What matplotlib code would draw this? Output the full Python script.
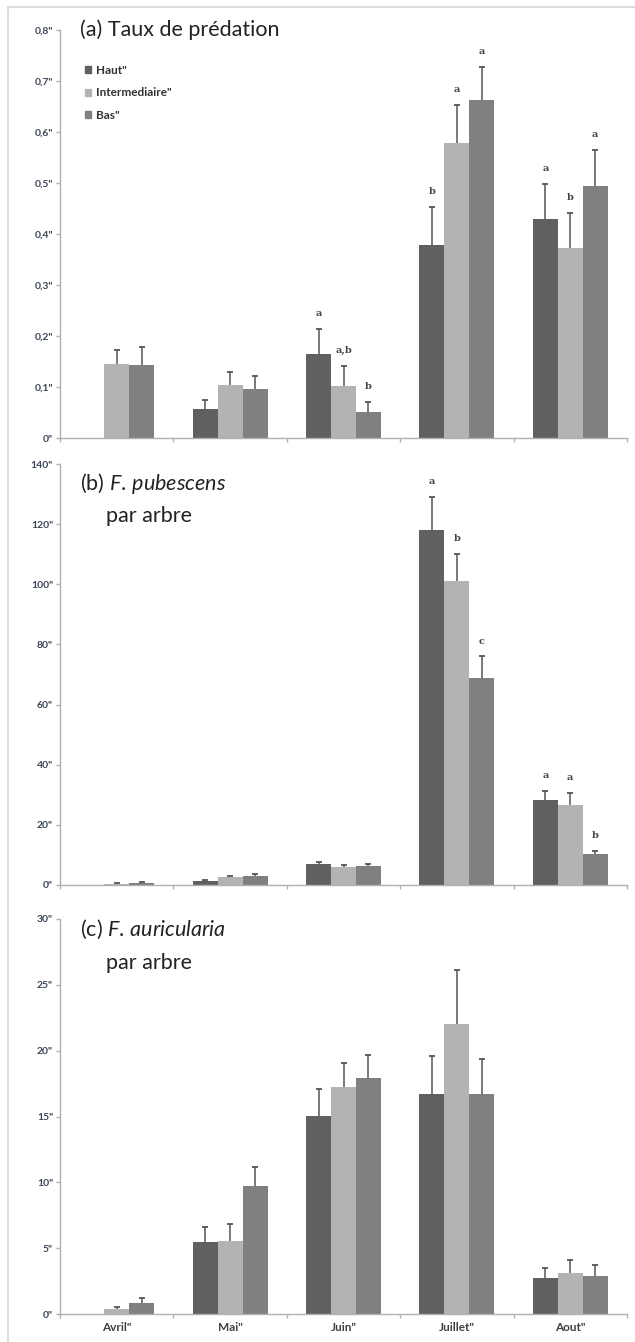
import numpy as np
import matplotlib
matplotlib.use("Agg")
import matplotlib.pyplot as plt
from matplotlib.lines import Line2D
from matplotlib.patches import Patch

plt.rcParams['font.family'] = ['Lato', 'DejaVu Sans']
plt.rcParams['mathtext.fontset'] = 'custom'
plt.rcParams['mathtext.rm'] = 'Lato'
plt.rcParams['mathtext.it'] = 'Lato:italic'

nan = np.nan

# Categories / series
mois = ['Avril"', 'Mai"', 'Juin"', 'Juillet"', 'Aout"']
series = ['Haut"', 'Intermediaire"', 'Bas"']
couleurs = ['#606060', '#b3b3b3', '#808080']

# (a) Taux de predation
haut_a = [nan, 0.057, 0.165, 0.378, 0.429]
haut_a_se = [nan, 0.018, 0.049, 0.075, 0.069]
inter_a = [0.145, 0.104, 0.102, 0.578, 0.373]
inter_a_se = [0.028, 0.026, 0.039, 0.075, 0.068]
bas_a = [0.143, 0.096, 0.051, 0.663, 0.494]
bas_a_se = [0.035, 0.026, 0.020, 0.064, 0.071]
haut_a_let = ['', '', 'a', 'b', 'a']
inter_a_let = ['', '', 'a,b', 'a', 'b']
bas_a_let = ['', '', 'b', 'a', 'a']

# (b) F. pubescens par arbre
haut_b = [nan, 1.2, 7.0, 118.0, 28.3]
haut_b_se = [nan, 0.5, 0.6, 11.0, 3.0]
inter_b = [0.4, 2.6, 6.0, 101.0, 26.7]
inter_b_se = [0.2, 0.5, 0.6, 9.0, 4.0]
bas_b = [0.7, 2.9, 6.3, 69.0, 10.3]
bas_b_se = [0.3, 0.7, 0.7, 7.0, 1.0]
haut_b_let = ['', '', '', 'a', 'a']
inter_b_let = ['', '', '', 'b', 'a']
bas_b_let = ['', '', '', 'c', 'b']

# (c) F. auricularia par arbre
haut_c = [nan, 5.45, 15.05, 16.7, 2.75]
haut_c_se = [nan, 1.15, 2.05, 2.9, 0.75]
inter_c = [0.38, 5.55, 17.25, 22.0, 3.1]
inter_c_se = [0.12, 1.25, 1.85, 4.1, 1.0]
bas_c = [0.8, 9.7, 17.9, 16.7, 2.9]
bas_c_se = [0.4, 1.5, 1.8, 2.7, 0.8]

yticks_a = [0, 0.1, 0.2, 0.3, 0.4, 0.5, 0.6, 0.7, 0.8]
yticks_b = [0, 20, 40, 60, 80, 100, 120, 140]
yticks_c = [0, 5, 10, 15, 20, 25, 30]

LARGEUR = 0.22
AXE = '#b0b0b0'
TEXTE = '#3d4656'


def fmt(v):
    if v == 0:
        return '0"'
    s = ('%g' % v).replace('.', ',')
    return s + '"'


def graficar(ax, valeurs, erreurs, lettres, yticks, bas_labels=False):
    x = np.arange(len(mois)) + 0.5
    for k in range(3):
        pos = x + (k - 1) * LARGEUR
        v = np.array(valeurs[k], dtype=float)
        e = np.array(erreurs[k], dtype=float)
        ax.bar(pos, v, LARGEUR, color=couleurs[k], edgecolor='none', zorder=2)
        # barre d'erreur seulement vers le haut
        ok = ~np.isnan(v)
        ax.vlines(pos[ok], v[ok], v[ok] + e[ok], color='#555555', lw=1.1, zorder=3)
        ax.plot(pos[ok], v[ok] + e[ok], ls='none', marker='_', ms=4.5,
                mew=1.3, color='#555555', zorder=3)
        if lettres is not None:
            for p, val, err, l in zip(pos, v, e, lettres[k]):
                if l:
                    ax.annotate(l, (p, val + err), xytext=(0, 11),
                                textcoords='offset points', ha='center',
                                va='center', fontsize=7, fontweight='bold',
                                family='DejaVu Serif', color='#444444')
    ax.set_xlim(0, len(mois))
    ax.set_ylim(yticks[0], yticks[-1])
    ax.set_yticks(yticks)
    ax.set_yticklabels([fmt(t) for t in yticks])
    ax.set_xticks(np.arange(len(mois) + 1))
    ax.set_xticklabels([])
    ax.set_xticks(x, minor=True)
    if bas_labels:
        ax.set_xticklabels(mois, minor=True)
    ax.tick_params(axis='x', which='minor', length=0, pad=6,
                   labelsize=8.5, labelcolor='#404040')
    ax.tick_params(axis='both', which='major', length=3, width=1, color=AXE,
                   labelsize=7.5, labelcolor=TEXTE, pad=2)
    for lab in ax.get_yticklabels() + ax.get_xticklabels(minor=True):
        lab.set_fontweight('bold')
    for s in ['top', 'right']:
        ax.spines[s].set_visible(False)
    for s in ['left', 'bottom']:
        ax.spines[s].set_color(AXE)
        ax.spines[s].set_linewidth(1)


def main():
    fig = plt.figure(figsize=(6.35, 13.42), dpi=100)
    W, H = 635.0, 1342.0
    gauche, droite = 60 / W, 627 / W

    ax_a = fig.add_axes([gauche, 1 - 438 / H, droite - gauche, 408 / H])
    ax_b = fig.add_axes([gauche, 1 - 885 / H, droite - gauche, 421 / H])
    ax_c = fig.add_axes([gauche, 1 - 1314 / H, droite - gauche, 395 / H])

    graficar(ax_a, [haut_a, inter_a, bas_a], [haut_a_se, inter_a_se, bas_a_se],
             [haut_a_let, inter_a_let, bas_a_let], yticks_a)
    graficar(ax_b, [haut_b, inter_b, bas_b], [haut_b_se, inter_b_se, bas_b_se],
             [haut_b_let, inter_b_let, bas_b_let], yticks_b)
    graficar(ax_c, [haut_c, inter_c, bas_c], [haut_c_se, inter_c_se, bas_c_se],
             None, yticks_c, bas_labels=True)

    titre = dict(fontsize=15.5, color='#222222', va='center', ha='left')
    fig.text(80 / W, 1 - 30 / H, '(a) Taux de prédation', **titre)
    fig.text(80 / W, 1 - 483 / H, r'(b) $\mathit{F.\,pubescens}$', **titre)
    fig.text(106 / W, 1 - 516 / H, 'par arbre', **titre)
    fig.text(80 / W, 1 - 929 / H, r'(c) $\mathit{F.\,auricularia}$', **titre)
    fig.text(106 / W, 1 - 963 / H, 'par arbre', **titre)

    poignees = [Patch(color=c) for c in couleurs]
    leg = ax_a.legend(poignees, series, loc='upper left',
                      bbox_to_anchor=(0.025, 0.94), frameon=False,
                      handlelength=0.55, handleheight=0.55, handletextpad=0.4,
                      labelspacing=0.95, prop={'size': 8.5, 'weight': 'bold'})
    for t in leg.get_texts():
        t.set_color('#333333')

    # cadre gris clair
    fig.add_artist(Line2D([8 / W, 8 / W], [0, 1 - 7 / H], color='#dcdcdc', lw=1.5))
    fig.add_artist(Line2D([8 / W, 1], [1 - 7 / H, 1 - 7 / H], color='#dcdcdc', lw=1.5))

    fig.savefig('out.png', dpi=100)


if __name__ == "__main__":
    main()
